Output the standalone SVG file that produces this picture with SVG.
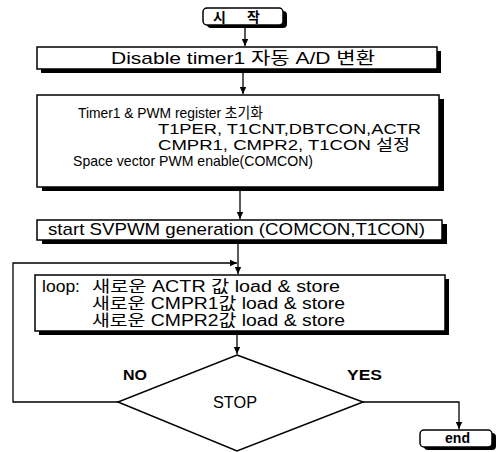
<svg xmlns="http://www.w3.org/2000/svg" width="502" height="452" viewBox="0 0 502 452">
<defs>
<marker id="ah" markerWidth="8" markerHeight="8" refX="7" refY="4" orient="auto" markerUnits="userSpaceOnUse">
<path d="M0,0.8 L7,4 L0,7.2 Z" fill="#000"/>
</marker>
<style>
.box{fill:#fff;stroke:#000;stroke-width:1.5}
.sh{fill:#000}
.t{font-family:"Liberation Sans","Noto Sans CJK KR",sans-serif;font-size:16px;fill:#000}
.big{font-size:17px}
.mid{font-size:14.5px}
.lbl{font-size:14px;font-weight:bold}
.c{fill:none;stroke:#000;stroke-width:1.3}
</style>
</defs>
<rect width="502" height="452" fill="#fff"/>
<g id="connectors">
<path class="c" d="M245,25 V46" marker-end="url(#ah)"/>
<path class="c" d="M243,70 V94" marker-end="url(#ah)"/>
<path class="c" d="M240,190 V219" marker-end="url(#ah)"/>
<path class="c" d="M238,243 V274" marker-end="url(#ah)"/>
<path class="c" d="M118,402 H13 V263 H237" marker-end="url(#ah)"/>
<path class="c" d="M237,333 V354" marker-end="url(#ah)"/>
<path class="c" d="M363,402 H459 V429" marker-end="url(#ah)"/>
</g>
<g id="start">
<rect class="sh" x="207" y="11" width="80" height="17" rx="4"/>
<rect class="box" x="203" y="8" width="80" height="17" rx="4"/>
<text class="t lbl" x="213" y="22" textLength="47" lengthAdjust="spacing">시 작</text>
</g>
<g id="disable">
<rect class="sh" x="41" y="51" width="400" height="22"/>
<rect class="box" x="37" y="47" width="400" height="22"/>
<text class="t big" x="111" y="64" textLength="264" lengthAdjust="spacingAndGlyphs">Disable timer1 자동 A/D 변환</text>
</g>
<g id="init">
<rect class="sh" x="42" y="99" width="402" height="92"/>
<rect class="box" x="37" y="95" width="402" height="92"/>
<text class="t mid" x="78" y="118" textLength="185" lengthAdjust="spacingAndGlyphs">Timer1 &amp; PWM register 초기화</text>
<text class="t mid" x="158" y="134" textLength="263" lengthAdjust="spacingAndGlyphs">T1PER, T1CNT,DBTCON,ACTR</text>
<text class="t mid" x="158" y="150" textLength="252" lengthAdjust="spacingAndGlyphs">CMPR1, CMPR2, T1CON 설정</text>
<text class="t mid" x="73" y="166" textLength="240" lengthAdjust="spacingAndGlyphs">Space vector PWM enable(COMCON)</text>
</g>
<g id="startsvpwm">
<rect class="sh" x="42" y="224" width="405" height="20"/>
<rect class="box" x="37" y="220" width="405" height="20"/>
<text class="t big" x="48" y="235" textLength="377" lengthAdjust="spacingAndGlyphs">start SVPWM  generation (COMCON,T1CON)</text>
</g>
<g id="loop">
<rect class="sh" x="39" y="279" width="410" height="56"/>
<rect class="box" x="35" y="275" width="410" height="56"/>
<text class="t" x="42" y="292" textLength="38" lengthAdjust="spacingAndGlyphs">loop:</text>
<text class="t" x="92" y="292" textLength="248" lengthAdjust="spacingAndGlyphs">새로운 ACTR 값 load &amp; store</text>
<text class="t" x="92" y="309" textLength="253" lengthAdjust="spacingAndGlyphs">새로운 CMPR1값 load &amp; store</text>
<text class="t" x="92" y="326" textLength="253" lengthAdjust="spacingAndGlyphs">새로운 CMPR2값 load &amp; store</text>
</g>
<g id="stop">
<path d="M237,355 L363,402 L237,451 L118,402 Z" fill="#fff" stroke="#000" stroke-width="1.5"/>
<text class="t" x="213" y="408" textLength="44" lengthAdjust="spacingAndGlyphs">STOP</text>
<text class="t lbl" x="123" y="380" textLength="24" lengthAdjust="spacingAndGlyphs">NO</text>
<text class="t lbl" x="347" y="380" textLength="35" lengthAdjust="spacingAndGlyphs">YES</text>
</g>
<g id="end">
<rect class="sh" x="424" y="433" width="72" height="17" rx="4"/>
<rect class="box" x="420" y="430" width="72" height="17" rx="4"/>
<text class="t lbl" x="445" y="443" textLength="25" lengthAdjust="spacingAndGlyphs">end</text>
</g>
</svg>
